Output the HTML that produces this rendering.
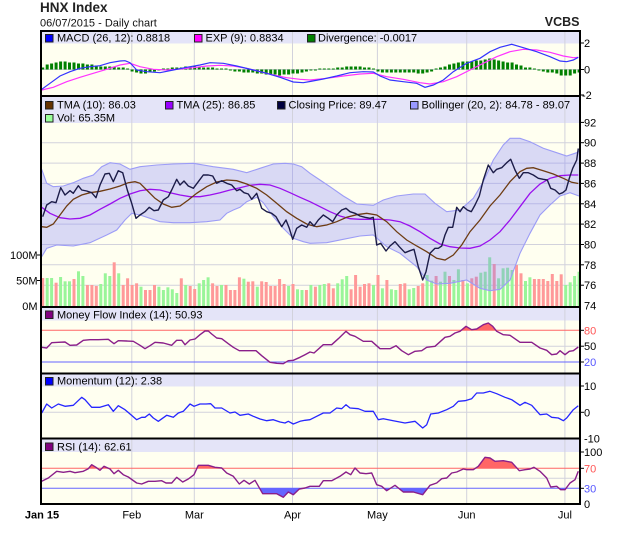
<!DOCTYPE html>
<html><head><meta charset="utf-8"><style>
html,body{margin:0;padding:0;background:#fff;}
svg{display:block;font-family:"Liberation Sans",Arial,sans-serif;}
</style></head><body>
<svg width="620" height="535" viewBox="0 0 620 535" xmlns="http://www.w3.org/2000/svg">
<defs>
<clipPath id="cMfiR"><rect x="40" y="320" width="540" height="10.3"/></clipPath>
<clipPath id="cRsiR"><rect x="40" y="452" width="540" height="16.3"/></clipPath>
<clipPath id="cRsiB"><rect x="40" y="488.3" width="540" height="16"/></clipPath>
</defs>
<rect width="620" height="535" fill="#fff"/>
<!-- header -->
<text x="40" y="11.8" font-size="13.5" font-weight="bold" fill="#222">HNX Index</text>
<text x="40" y="26.5" font-size="11" fill="#111">06/07/2015 - Daily chart</text>
<text x="579.5" y="26" font-size="12.5" font-weight="bold" fill="#222" text-anchor="end">VCBS</text>

<!-- plot backgrounds -->
<rect x="41" y="31" width="539" height="473" fill="#fffff0"/>
<g fill="#e4e4f8">
<rect x="41" y="31" width="539" height="12.5"/>
<rect x="41" y="96" width="539" height="27"/>
<rect x="41" y="307" width="539" height="13.5"/>
<rect x="41" y="373.5" width="539" height="13"/>
<rect x="41" y="438.5" width="539" height="13.5"/>
</g>
<!-- vertical grid -->
<g stroke="#d2d2dc" stroke-width="1">
<line x1="131.8" y1="31" x2="131.8" y2="504"/>
<line x1="194.3" y1="31" x2="194.3" y2="504"/>
<line x1="292.5" y1="31" x2="292.5" y2="504"/>
<line x1="377.4" y1="31" x2="377.4" y2="504"/>
<line x1="466.7" y1="31" x2="466.7" y2="504"/>
<line x1="564.9" y1="31" x2="564.9" y2="504"/>
</g>
<!-- horizontal grid -->
<g stroke="#d2d2dc" stroke-width="1">
<line x1="41" y1="69.5" x2="580" y2="69.5"/>
<line x1="41" y1="142.7" x2="580" y2="142.7"/>
<line x1="41" y1="163.1" x2="580" y2="163.1"/>
<line x1="41" y1="183.4" x2="580" y2="183.4"/>
<line x1="41" y1="203.8" x2="580" y2="203.8"/>
<line x1="41" y1="224.1" x2="580" y2="224.1"/>
<line x1="41" y1="244.5" x2="580" y2="244.5"/>
<line x1="41" y1="264.8" x2="580" y2="264.8"/>
<line x1="41" y1="285.2" x2="580" y2="285.2"/>
<line x1="41" y1="346.2" x2="580" y2="346.2"/>
<line x1="41" y1="412.3" x2="580" y2="412.3"/>
<line x1="41" y1="478.3" x2="580" y2="478.3"/>
</g>
<g stroke-width="1">
<line x1="41" y1="330.3" x2="580" y2="330.3" stroke="#ff6666"/>
<line x1="41" y1="362" x2="580" y2="362" stroke="#6666ff"/>
<line x1="41" y1="468.3" x2="580" y2="468.3" stroke="#ff6666"/>
<line x1="41" y1="488.3" x2="580" y2="488.3" stroke="#6666ff"/>
</g>

<!-- MACD histogram -->
<g fill="#008000">
<rect x="41.2" y="67.5" width="3" height="2"/><rect x="45.7" y="64.5" width="3" height="5"/><rect x="50.1" y="63.5" width="3" height="6"/><rect x="54.6" y="62.5" width="3" height="7"/><rect x="59.1" y="61.5" width="3" height="8"/><rect x="63.6" y="61.5" width="3" height="8"/><rect x="68.0" y="62.5" width="3" height="7"/><rect x="72.5" y="62.5" width="3" height="7"/><rect x="77.0" y="63.5" width="3" height="6"/><rect x="81.4" y="63.5" width="3" height="6"/><rect x="85.9" y="64.5" width="3" height="5"/><rect x="90.4" y="64.5" width="3" height="5"/><rect x="94.8" y="65.5" width="3" height="4"/><rect x="99.3" y="66.5" width="3" height="3"/><rect x="103.8" y="66.5" width="3" height="3"/><rect x="108.3" y="66.5" width="3" height="3"/><rect x="112.7" y="66.5" width="3" height="3"/><rect x="117.2" y="67.5" width="3" height="2"/><rect x="121.7" y="67.5" width="3" height="2"/><rect x="126.1" y="68.5" width="3" height="1"/>
<rect x="130.6" y="69.5" width="3" height="2"/><rect x="135.1" y="69.5" width="3" height="3"/><rect x="139.5" y="69.5" width="3" height="4"/><rect x="144.0" y="69.5" width="3" height="4"/><rect x="148.5" y="69.5" width="3" height="3"/><rect x="153.0" y="69.5" width="3" height="2"/><rect x="157.4" y="69.5" width="3" height="1"/>
<rect x="161.9" y="68.5" width="3" height="1"/><rect x="166.4" y="68.5" width="3" height="1"/><rect x="170.8" y="67.5" width="3" height="2"/><rect x="175.3" y="67.5" width="3" height="2"/><rect x="179.8" y="67.5" width="3" height="2"/><rect x="184.2" y="66.5" width="3" height="3"/><rect x="188.7" y="66.5" width="3" height="3"/><rect x="193.2" y="66.5" width="3" height="3"/><rect x="197.7" y="66.5" width="3" height="3"/><rect x="202.1" y="67.5" width="3" height="2"/><rect x="206.6" y="67.5" width="3" height="2"/><rect x="211.1" y="67.5" width="3" height="2"/><rect x="215.5" y="68.5" width="3" height="1"/><rect x="220.0" y="68.5" width="3" height="1"/><rect x="224.5" y="68.5" width="3" height="1"/>
<rect x="228.9" y="69.5" width="3" height="1"/><rect x="233.4" y="69.5" width="3" height="2"/><rect x="237.9" y="69.5" width="3" height="2"/><rect x="242.4" y="69.5" width="3" height="3"/><rect x="246.8" y="69.5" width="3" height="3"/><rect x="251.3" y="69.5" width="3" height="3"/><rect x="255.8" y="69.5" width="3" height="4"/><rect x="260.2" y="69.5" width="3" height="4"/><rect x="264.7" y="69.5" width="3" height="5"/><rect x="269.2" y="69.5" width="3" height="5"/><rect x="273.6" y="69.5" width="3" height="5"/><rect x="278.1" y="69.5" width="3" height="6"/><rect x="282.6" y="69.5" width="3" height="5"/><rect x="287.1" y="69.5" width="3" height="5"/><rect x="291.5" y="69.5" width="3" height="4"/><rect x="296.0" y="69.5" width="3" height="4"/><rect x="300.5" y="69.5" width="3" height="3"/><rect x="304.9" y="69.5" width="3" height="2"/><rect x="309.4" y="69.5" width="3" height="1"/><rect x="313.9" y="69.5" width="3" height="1"/>
<rect x="318.3" y="68.5" width="3" height="1"/><rect x="322.8" y="68.5" width="3" height="1"/><rect x="327.3" y="68.5" width="3" height="1"/><rect x="331.8" y="68.5" width="3" height="1"/><rect x="336.2" y="67.5" width="3" height="2"/><rect x="340.7" y="67.5" width="3" height="2"/><rect x="345.2" y="66.5" width="3" height="3"/><rect x="349.6" y="66.5" width="3" height="3"/><rect x="354.1" y="66.5" width="3" height="3"/><rect x="358.6" y="66.5" width="3" height="3"/><rect x="363.0" y="67.5" width="3" height="2"/><rect x="367.5" y="67.5" width="3" height="2"/><rect x="372.0" y="68.5" width="3" height="1"/>
<rect x="376.5" y="69.5" width="3" height="2"/><rect x="380.9" y="69.5" width="3" height="3"/><rect x="385.4" y="69.5" width="3" height="3"/><rect x="389.9" y="69.5" width="3" height="3"/><rect x="394.3" y="69.5" width="3" height="3"/><rect x="398.8" y="69.5" width="3" height="3"/><rect x="403.3" y="69.5" width="3" height="3"/><rect x="407.7" y="69.5" width="3" height="3"/><rect x="412.2" y="69.5" width="3" height="3"/><rect x="416.7" y="69.5" width="3" height="4"/><rect x="421.2" y="69.5" width="3" height="4"/><rect x="425.6" y="69.5" width="3" height="3"/><rect x="430.1" y="69.5" width="3" height="2"/>
<rect x="434.6" y="68.5" width="3" height="1"/><rect x="439.0" y="67.5" width="3" height="2"/><rect x="443.5" y="66.5" width="3" height="3"/><rect x="448.0" y="64.5" width="3" height="5"/><rect x="452.4" y="63.5" width="3" height="6"/><rect x="456.9" y="62.5" width="3" height="7"/><rect x="461.4" y="61.5" width="3" height="8"/><rect x="465.9" y="61.5" width="3" height="8"/><rect x="470.3" y="61.5" width="3" height="8"/><rect x="474.8" y="60.5" width="3" height="9"/><rect x="479.3" y="60.5" width="3" height="9"/><rect x="483.7" y="59.5" width="3" height="10"/><rect x="488.2" y="58.5" width="3" height="11"/><rect x="492.7" y="59.5" width="3" height="10"/><rect x="497.1" y="60.5" width="3" height="9"/><rect x="501.6" y="61.5" width="3" height="8"/><rect x="506.1" y="62.5" width="3" height="7"/><rect x="510.6" y="62.5" width="3" height="7"/><rect x="515.0" y="64.5" width="3" height="5"/><rect x="519.5" y="65.5" width="3" height="4"/><rect x="524.0" y="67.5" width="3" height="2"/><rect x="528.4" y="67.5" width="3" height="2"/><rect x="532.9" y="68.5" width="3" height="1"/>
<rect x="537.4" y="69.5" width="3" height="1"/><rect x="541.8" y="69.5" width="3" height="2"/><rect x="546.3" y="69.5" width="3" height="3"/><rect x="550.8" y="69.5" width="3" height="3"/><rect x="555.3" y="69.5" width="3" height="4"/><rect x="559.7" y="69.5" width="3" height="6"/><rect x="564.2" y="69.5" width="3" height="6"/><rect x="568.7" y="69.5" width="3" height="6"/><rect x="573.1" y="69.5" width="3" height="4"/><rect x="577.6" y="69.5" width="2" height="3"/>
</g>
<!-- MACD lines -->
<polyline fill="none" stroke="#ff33ff" stroke-width="1.2" points="41.7,90 53.3,87.3 66.7,81.7 80,77.3 93.3,73.3 106.7,69.3 120,65 130,63.3 140,66.7 153.3,69.3 166.7,70 180,69 193.3,67.7 206.7,66 220,65.3 233.3,66 246.7,68.3 260,71.7 273.3,75 286.7,77.7 300,79.3 310,80 326.7,78.3 343.3,76 360,74 373.3,73.3 386.7,76.7 403.3,79.3 420,82.7 430,84 443.3,81.7 456.7,76.7 470,70 483.3,63.3 496.7,56.7 510,51.7 523.3,49.3 536.7,50 550,52.3 563.3,56 573.3,57.7 578.3,57.3"/>
<polyline fill="none" stroke="#3333ff" stroke-width="1.2" points="41.7,89.3 50,83.3 60,76 70,71.7 80,68.3 90,66.7 100,65.7 110,62.7 120,61 125,60.7 130,62.7 136.7,70 146.7,71.7 160,72.7 173.3,70 186.7,67.3 200,65 210,62.7 223.3,63.3 236.7,66 253.3,70 266.7,73.3 280,77.3 293.3,82 303.3,82.7 310,81.5 323.3,79 336.7,76 350,72.7 363.3,71.7 373.3,72 380,76 390,80 403.3,81.7 416.7,83.3 425,87.3 433.3,85 443.3,80 453.3,71.7 466.7,63.3 480,58.3 490,51.7 500,47.3 511.7,44.3 523.3,47.7 536.7,51.7 550,56.7 560,61 566.7,61.7 573.3,60 578.3,57.3"/>

<!-- Volume bars -->
<g fill="#ff9999">
<rect x="41.2" y="278" width="3" height="28"/><rect x="54.6" y="282.7" width="3" height="23.3"/><rect x="72.5" y="279" width="3" height="27"/><rect x="85.9" y="285" width="3" height="21"/><rect x="90.4" y="285" width="3" height="21"/><rect x="94.8" y="286" width="3" height="20"/><rect x="112.7" y="262.3" width="3" height="43.7"/><rect x="121.7" y="285" width="3" height="21"/><rect x="126.1" y="278.3" width="3" height="27.7"/><rect x="130.6" y="285" width="3" height="21"/><rect x="135.1" y="283.3" width="3" height="22.7"/><rect x="144.0" y="290" width="3" height="16"/><rect x="148.5" y="290" width="3" height="16"/><rect x="153.0" y="285" width="3" height="21"/><rect x="179.8" y="278.3" width="3" height="27.7"/><rect x="188.7" y="286" width="3" height="20"/><rect x="193.2" y="289" width="3" height="17"/><rect x="211.1" y="283.3" width="3" height="22.7"/><rect x="215.5" y="286" width="3" height="20"/><rect x="224.5" y="285" width="3" height="21"/><rect x="228.9" y="290" width="3" height="16"/><rect x="233.4" y="290" width="3" height="16"/><rect x="237.9" y="277.3" width="3" height="28.7"/><rect x="246.8" y="281.7" width="3" height="24.3"/><rect x="251.3" y="281.3" width="3" height="24.7"/><rect x="260.2" y="281.3" width="3" height="24.7"/><rect x="264.7" y="282" width="3" height="24"/><rect x="269.2" y="286" width="3" height="20"/><rect x="273.6" y="286" width="3" height="20"/><rect x="278.1" y="279" width="3" height="27"/><rect x="282.6" y="284" width="3" height="22"/><rect x="291.5" y="284" width="3" height="22"/><rect x="304.9" y="290" width="3" height="16"/><rect x="313.9" y="286.7" width="3" height="19.3"/><rect x="327.3" y="283.3" width="3" height="22.7"/><rect x="331.8" y="288.3" width="3" height="17.7"/><rect x="349.6" y="289.3" width="3" height="16.7"/><rect x="354.1" y="275" width="3" height="31"/><rect x="358.6" y="286.7" width="3" height="19.3"/><rect x="363.0" y="284" width="3" height="22"/><rect x="367.5" y="283.3" width="3" height="22.7"/><rect x="376.5" y="275" width="3" height="31"/><rect x="385.4" y="280" width="3" height="26"/><rect x="398.8" y="284" width="3" height="22"/><rect x="403.3" y="283.3" width="3" height="22.7"/><rect x="416.7" y="286" width="3" height="20"/><rect x="421.2" y="283.3" width="3" height="22.7"/><rect x="434.6" y="276" width="3" height="30"/><rect x="448.0" y="276" width="3" height="30"/><rect x="461.4" y="280" width="3" height="26"/><rect x="470.3" y="278.3" width="3" height="27.7"/><rect x="474.8" y="276.7" width="3" height="29.3"/><rect x="492.7" y="264" width="3" height="42"/><rect x="515.0" y="265" width="3" height="41"/><rect x="519.5" y="273.3" width="3" height="32.7"/><rect x="532.9" y="279" width="3" height="27"/><rect x="537.4" y="279" width="3" height="27"/><rect x="541.8" y="279" width="3" height="27"/><rect x="546.3" y="281" width="3" height="25"/><rect x="550.8" y="274" width="3" height="32"/><rect x="555.3" y="281" width="3" height="25"/><rect x="559.7" y="274.3" width="3" height="31.7"/>
</g>
<g fill="#99f599">
<rect x="45.7" y="278" width="3" height="28"/><rect x="50.1" y="278" width="3" height="28"/><rect x="59.1" y="277" width="3" height="29"/><rect x="63.6" y="281.3" width="3" height="24.7"/><rect x="68.0" y="281.3" width="3" height="24.7"/><rect x="77.0" y="271.3" width="3" height="34.7"/><rect x="81.4" y="276" width="3" height="30"/><rect x="99.3" y="284" width="3" height="22"/><rect x="103.8" y="273.3" width="3" height="32.7"/><rect x="108.3" y="276" width="3" height="30"/><rect x="117.2" y="273.3" width="3" height="32.7"/><rect x="139.5" y="286.7" width="3" height="19.3"/><rect x="157.4" y="286.7" width="3" height="19.3"/><rect x="161.9" y="290" width="3" height="16"/><rect x="166.4" y="287.3" width="3" height="18.7"/><rect x="170.8" y="289.3" width="3" height="16.7"/><rect x="175.3" y="293" width="3" height="13"/><rect x="184.2" y="285" width="3" height="21"/><rect x="197.7" y="283.3" width="3" height="22.7"/><rect x="202.1" y="280" width="3" height="26"/><rect x="206.6" y="277.3" width="3" height="28.7"/><rect x="220.0" y="285" width="3" height="21"/><rect x="242.4" y="278.7" width="3" height="27.3"/><rect x="255.8" y="286.7" width="3" height="19.3"/><rect x="287.1" y="286" width="3" height="20"/><rect x="296.0" y="289.3" width="3" height="16.7"/><rect x="300.5" y="290" width="3" height="16"/><rect x="309.4" y="285" width="3" height="21"/><rect x="318.3" y="285" width="3" height="21"/><rect x="322.8" y="284" width="3" height="22"/><rect x="336.2" y="283.3" width="3" height="22.7"/><rect x="340.7" y="279.3" width="3" height="26.7"/><rect x="345.2" y="276" width="3" height="30"/><rect x="372.0" y="285" width="3" height="21"/><rect x="380.9" y="288.3" width="3" height="17.7"/><rect x="389.9" y="289.3" width="3" height="16.7"/><rect x="394.3" y="290" width="3" height="16"/><rect x="407.7" y="289.3" width="3" height="16.7"/><rect x="412.2" y="288" width="3" height="18"/><rect x="425.6" y="275" width="3" height="31"/><rect x="430.1" y="280.7" width="3" height="25.3"/><rect x="439.0" y="281.7" width="3" height="24.3"/><rect x="443.5" y="271.7" width="3" height="34.3"/><rect x="452.4" y="280" width="3" height="26"/><rect x="456.9" y="269.3" width="3" height="36.7"/><rect x="465.9" y="283.3" width="3" height="22.7"/><rect x="479.3" y="272.7" width="3" height="33.3"/><rect x="483.7" y="271.7" width="3" height="34.3"/><rect x="488.2" y="257.3" width="3" height="48.7"/><rect x="497.1" y="278.3" width="3" height="27.7"/><rect x="501.6" y="268.3" width="3" height="37.7"/><rect x="506.1" y="267.7" width="3" height="38.3"/><rect x="510.6" y="270" width="3" height="36"/><rect x="524.0" y="281" width="3" height="25"/><rect x="528.4" y="277.3" width="3" height="28.7"/><rect x="564.2" y="285" width="3" height="21"/><rect x="568.7" y="282.3" width="3" height="23.7"/><rect x="573.1" y="276" width="3" height="30"/><rect x="577.6" y="271.7" width="2.4" height="34.3"/>
</g>

<!-- Bollinger band -->
<polygon fill="rgba(128,128,255,0.30)" stroke="none" points="41.7,169.3 46.7,183.3 53.3,186.7 63.3,186 73.3,182.7 83.3,178.3 93.3,175 101.7,166.7 110,162.7 120,164 130,169.3 140,166.7 156.7,165 173.3,164 193.3,163.3 213.3,166.7 233.3,169.3 246.7,172.7 260,168.3 273.3,164 285,163.3 293.3,164 301.7,166.7 310,173.3 320,180 330,186.7 343.3,196 356.7,204 373.3,205.3 383.3,200 396.7,196 413.3,194 425,194 435,203.3 446.7,211.7 460,210 473.3,198.3 483.3,181.7 493.3,160 503.3,145 510,138.3 520,138.3 530,141.7 543.3,148.3 556.7,152.7 566.7,156 576.7,152.7 579,151 579,196 570,192.7 560,196 550,205 540,215 530,233.3 520,253.3 510,280 500,289.3 490,290.7 480,288.3 466.7,280 450,283.3 436.7,284 426.7,280 416.7,266.7 400,253.3 386.7,246.7 373.3,235 360,236 343.3,239.3 326.7,242.7 310,243.3 303.3,241.7 293.3,238.3 283.3,228.3 273.3,216.7 263.3,202.7 256.7,197.3 246.7,201.7 240,207.3 233.3,210 226.7,213.3 220,220 206.7,221.7 190,222.7 173.3,222.7 160,221.7 150,218.3 140,215 131.7,213.3 125,220 116.7,230 106.7,235 90,242.7 73.3,246 56.7,245 46.7,248.3 41.7,256.7"/>
<g fill="none" stroke="#9c9cf6" stroke-width="1.1">
<polyline points="41.7,169.3 46.7,183.3 53.3,186.7 63.3,186 73.3,182.7 83.3,178.3 93.3,175 101.7,166.7 110,162.7 120,164 130,169.3 140,166.7 156.7,165 173.3,164 193.3,163.3 213.3,166.7 233.3,169.3 246.7,172.7 260,168.3 273.3,164 285,163.3 293.3,164 301.7,166.7 310,173.3 320,180 330,186.7 343.3,196 356.7,204 373.3,205.3 383.3,200 396.7,196 413.3,194 425,194 435,203.3 446.7,211.7 460,210 473.3,198.3 483.3,181.7 493.3,160 503.3,145 510,138.3 520,138.3 530,141.7 543.3,148.3 556.7,152.7 566.7,156 576.7,152.7 579,151"/>
<polyline points="41.7,256.7 46.7,248.3 56.7,245 73.3,246 90,242.7 106.7,235 116.7,230 125,220 131.7,213.3 140,215 150,218.3 160,221.7 173.3,222.7 190,222.7 206.7,221.7 220,220 226.7,213.3 233.3,210 240,207.3 246.7,201.7 256.7,197.3 263.3,202.7 273.3,216.7 283.3,228.3 293.3,238.3 303.3,241.7 310,243.3 326.7,242.7 343.3,239.3 360,236 373.3,235 386.7,246.7 400,253.3 416.7,266.7 426.7,280 436.7,284 450,283.3 466.7,280 480,288.3 490,290.7 500,289.3 510,280 520,253.3 530,233.3 540,215 550,205 560,196 570,192.7 579,196"/>
</g>
<!-- TMA lines -->
<polyline fill="none" stroke="#9a10ee" stroke-width="1.3" points="41.7,207.3 50,213.3 60,217.7 70,219 80,218.3 90,215 100,209.3 110,204 120,198.3 130,194 140,190.7 150,189.3 160,190 170,192.7 180,195 190,196.7 200,196.7 210,195 220,192.7 230,190 240,187.7 250,185.3 260,184.3 270,185 280,188.3 290,192.7 300,197.3 310,201.7 320,206.7 330,211.7 340,216 350,218.7 360,219.3 370,219.3 380,219.3 390,220 400,221.7 410,226 420,231.7 430,238.3 440,244 450,246.7 460,248 470,248.3 480,246 490,240 500,231.7 510,220 520,206.7 530,193.3 540,184 550,178.3 560,175.7 570,175 578.3,175"/>
<polyline fill="none" stroke="#6e3c12" stroke-width="1.3" points="41.7,226.7 46.7,227.3 53.3,224 60,215 66.7,206 73.3,199.3 81.7,195 90,192.7 100,191.3 110,189 120,186 128.3,182.7 135,181.7 140,183.3 146.7,190 155,198.3 163.3,204 171.7,207.3 180,206 188.3,200 196.7,193.3 206.7,186.7 216.7,182 226.7,180 236.7,180.7 246.7,184 256.7,188.3 266.7,195 276.7,203.3 286.7,211.7 296.7,218.3 306.7,224 310,225 316.7,226.7 326.7,225 336.7,221.7 346.7,217.3 356.7,214.7 366.7,213.3 376.7,215 386.7,221.7 396.7,231.7 406.7,240 416.7,246 426.7,251.7 436.7,258.3 445,260 453.3,255 461.7,245 470,231.7 480,220 490,206 500,195 510,181.7 520,171.7 526.7,168.3 533.3,167.7 543.3,170.7 553.3,174 563.3,178.3 571.7,182.3 578.3,183.5"/>
<!-- Close -->
<polyline fill="none" stroke="#1c1c48" stroke-width="1.4" stroke-linejoin="round" points="42.7,216.7 46.7,205 51.7,201.7 56,202.7 60.7,187.7 65,195 70,190.7 73.3,193.3 78.3,185.7 81.7,190 86.7,191 91.7,192.7 96,197.7 100,185 105,174 109.3,173.3 113.3,181.7 118.3,170.7 122.7,172.7 127.3,190 131.7,203.3 136,218.3 140,215 145,211.7 149.3,207.3 154,210.7 158.3,210 163.3,200 168.3,196.7 171.7,190 176.7,179.3 180,185 184,181 188.3,186 193.3,188.3 198.3,181.7 203.3,175 208.3,175 212.7,176 216.7,183.3 221.7,180.7 226.7,183.3 231.7,185 236.7,190.7 240,189.3 244,192.7 248.3,194 251.7,199.3 256.7,193.3 261.7,208.3 266.7,211.7 271.7,213.3 276,216.7 281.7,226.7 286,220 289.3,228.3 292.7,239.3 296.7,228.3 301.7,225 306.7,227.3 310,221.7 314,226 318.3,220 323.3,215 328.3,218.3 332.7,221.7 336.7,215 341.7,210 346,208.3 350,211.7 355,213.3 360,216 365,217.3 370,218.3 373.3,217.3 376.7,245 380.7,243.3 386,251 390,246 395,241.7 399.3,246.7 405,252.7 410,250.7 414,249.3 418.3,266.7 422.7,280 426,271.7 430,253.3 435,248.3 438.3,248.3 441.7,246 445,235 448.3,227.3 452.7,227.3 456.7,207.3 460,211.7 463.3,206.7 467.3,210 471.3,211.7 475,205 479.3,196 483.3,180 488.3,165 493.3,172.7 496.7,169.3 501.7,167.7 506.7,162.7 510.7,159.3 515,170 519.3,178.3 523.3,172.7 528.3,172.7 533.3,175 538.3,178.3 543.3,179.3 547.3,180 550.7,188.3 555,190 559.3,194 562.7,192.7 566,190 569.3,178.3 572.7,168.3 576.7,160 578.3,148.5"/>

<!-- MFI -->
<path clip-path="url(#cMfiR)" fill="#ff6666" d="M41.7,330.3 L41.7,347.3 46.7,348 51.7,342.7 58.3,342.3 65,342 70,345.3 76.7,345 83.3,340.3 90,339.7 98.3,339.7 108.3,339.3 114,343.7 118.3,340.7 126.7,341 133.3,341.3 140,345.3 145,348.7 150,345.7 155,342.3 163.3,343 171.7,345.3 176.7,340.3 181.7,340.3 185,344.7 190,340 195,339 200,334.7 205,331 208.3,331 211.7,334 216.7,338 221.7,338.7 228.3,343.7 233.3,347.3 239.3,350.7 246.7,350.7 256,350.7 261.7,355.7 270,362.3 276.7,363.3 283.3,363.7 288.3,360.7 293.3,360.3 300,357.3 305,354.7 310,352 314,353 323.3,344.7 331.7,344.7 338.3,338.7 346,331.3 350,334.7 355,336.3 363.3,341.3 371.7,341.3 380,348.7 390,348.7 396,345.7 401.7,350.7 408.3,354.7 415,351.3 421.7,350.7 426.7,347.3 435,346.3 445,337.3 450,336.3 455,333 460,331.3 466,326.3 471.7,329.7 476.7,329 483.3,324.7 488.3,323 492.7,326.3 496.7,331.3 503.3,334.7 510,335.3 520,342.3 531.7,342.3 540,348 546.7,350.3 551.7,354.7 556.7,354 560,350.7 565,354.7 569.3,351.3 573.3,350.7 578.3,347 L578.3,330.3 Z"/>
<polyline fill="none" stroke="#8a1f8a" stroke-width="1.4" stroke-linejoin="round" points="41.7,347.3 46.7,348 51.7,342.7 58.3,342.3 65,342 70,345.3 76.7,345 83.3,340.3 90,339.7 98.3,339.7 108.3,339.3 114,343.7 118.3,340.7 126.7,341 133.3,341.3 140,345.3 145,348.7 150,345.7 155,342.3 163.3,343 171.7,345.3 176.7,340.3 181.7,340.3 185,344.7 190,340 195,339 200,334.7 205,331 208.3,331 211.7,334 216.7,338 221.7,338.7 228.3,343.7 233.3,347.3 239.3,350.7 246.7,350.7 256,350.7 261.7,355.7 270,362.3 276.7,363.3 283.3,363.7 288.3,360.7 293.3,360.3 300,357.3 305,354.7 310,352 314,353 323.3,344.7 331.7,344.7 338.3,338.7 346,331.3 350,334.7 355,336.3 363.3,341.3 371.7,341.3 380,348.7 390,348.7 396,345.7 401.7,350.7 408.3,354.7 415,351.3 421.7,350.7 426.7,347.3 435,346.3 445,337.3 450,336.3 455,333 460,331.3 466,326.3 471.7,329.7 476.7,329 483.3,324.7 488.3,323 492.7,326.3 496.7,331.3 503.3,334.7 510,335.3 520,342.3 531.7,342.3 540,348 546.7,350.3 551.7,354.7 556.7,354 560,350.7 565,354.7 569.3,351.3 573.3,350.7 578.3,347"/>

<!-- Momentum -->
<polyline fill="none" stroke="#2626ff" stroke-width="1.3" stroke-linejoin="round" points="41.7,413 46.7,404 51.7,408 58.3,404 65,406.3 73.3,405.3 81.7,397.3 85,399.7 91.7,407.3 100,407.3 108.3,404.7 113.3,411.3 118.3,405.7 125,409.7 136.7,419.7 141.7,417.3 145,417.3 149.3,414 153.3,418 158.3,421.3 166.7,415.3 173.3,417.3 178.3,413 183.3,411.3 190,404 194,406.3 200,404 206,404 210.7,403.7 215,408 221.7,408 230,413 235,412 240,415.3 248.3,414 253.3,416.3 260,419 266.7,420.7 273.3,419.7 280,422 285,423 288.3,421.3 293.3,424 300,421.3 305,420.3 310,419.7 316.7,416.3 323.3,413 330,413 336.7,408 341.7,408.7 346,404.7 350,408 358.3,408.7 365,411.3 373.3,411.3 378.3,419.7 383.3,418.7 393.3,420.7 405,423 415,421.3 422.7,428 426.7,424.7 430.7,414 438.3,413 446.7,409.7 453.3,406.3 458.3,401.3 465,400.7 471.7,398.7 476.7,393 483.3,393 490,391.3 496.7,393.7 505,397.3 511.7,399.7 520,405.3 525,402.3 531.7,405.3 540,414.7 546.7,414 551.7,417.3 558.3,418 563.3,420.7 566.7,418 573.3,409.7 578.3,405.7"/>

<!-- RSI -->
<path id="rsiArea" clip-path="url(#cRsiR)" fill="#ff6666" d="M41.7,468.3 L41.7,481.3 48.3,478 56.7,471.3 63.3,472.3 70,471.3 75,472.7 83.3,471.3 88.3,468.7 91.7,464.7 96,467.3 100,470.3 104,466.3 110,469 114,473.7 118.3,470.3 123.3,474.7 128.3,477 136.7,483 141.7,484 148.3,481.3 155,481.3 161.7,480.7 166,483 171.7,483 176.7,477.3 182.7,482 188.3,479 194,474.7 198.3,465.3 203.3,465.3 208.3,465.3 215,467.3 221.7,468 226.7,473 233.3,476.3 239.3,484 244,480.3 249.3,484 255,480.3 262.7,493.7 270,493.7 276.7,493.7 283.3,497.3 288.3,492 293.3,494.7 299.3,489 305,488 310,486.3 319.3,486.3 323.3,480.7 331.7,480.7 340,476.3 346,472 350.7,474.7 355,468 360,473 366,473.7 371.7,473 376.7,484.7 381.7,486.3 386.7,490.7 395,485.3 403.3,492 413.3,492 422.7,494.7 430,485.3 436.7,483 441.7,478.7 446.7,478 451.7,473 456.7,472 463.3,469 466.7,469.7 473.3,469.7 478.3,466.3 485,457.3 490,458 495,461.3 503.3,460.7 511.7,462.3 519.3,470.7 525,469.7 530,469 534,467.3 540,471.3 546.7,478 550.7,487 556.7,486.3 560.7,489.7 565,489.7 570,483 575,479.7 578.3,471.3 L578.3,468.3 Z"/>
<path clip-path="url(#cRsiB)" fill="#6666ff" d="M41.7,488.3 L41.7,481.3 48.3,478 56.7,471.3 63.3,472.3 70,471.3 75,472.7 83.3,471.3 88.3,468.7 91.7,464.7 96,467.3 100,470.3 104,466.3 110,469 114,473.7 118.3,470.3 123.3,474.7 128.3,477 136.7,483 141.7,484 148.3,481.3 155,481.3 161.7,480.7 166,483 171.7,483 176.7,477.3 182.7,482 188.3,479 194,474.7 198.3,465.3 203.3,465.3 208.3,465.3 215,467.3 221.7,468 226.7,473 233.3,476.3 239.3,484 244,480.3 249.3,484 255,480.3 262.7,493.7 270,493.7 276.7,493.7 283.3,497.3 288.3,492 293.3,494.7 299.3,489 305,488 310,486.3 319.3,486.3 323.3,480.7 331.7,480.7 340,476.3 346,472 350.7,474.7 355,468 360,473 366,473.7 371.7,473 376.7,484.7 381.7,486.3 386.7,490.7 395,485.3 403.3,492 413.3,492 422.7,494.7 430,485.3 436.7,483 441.7,478.7 446.7,478 451.7,473 456.7,472 463.3,469 466.7,469.7 473.3,469.7 478.3,466.3 485,457.3 490,458 495,461.3 503.3,460.7 511.7,462.3 519.3,470.7 525,469.7 530,469 534,467.3 540,471.3 546.7,478 550.7,487 556.7,486.3 560.7,489.7 565,489.7 570,483 575,479.7 578.3,471.3 L578.3,488.3 Z"/>
<polyline fill="none" stroke="#8a1f8a" stroke-width="1.4" stroke-linejoin="round" points="41.7,481.3 48.3,478 56.7,471.3 63.3,472.3 70,471.3 75,472.7 83.3,471.3 88.3,468.7 91.7,464.7 96,467.3 100,470.3 104,466.3 110,469 114,473.7 118.3,470.3 123.3,474.7 128.3,477 136.7,483 141.7,484 148.3,481.3 155,481.3 161.7,480.7 166,483 171.7,483 176.7,477.3 182.7,482 188.3,479 194,474.7 198.3,465.3 203.3,465.3 208.3,465.3 215,467.3 221.7,468 226.7,473 233.3,476.3 239.3,484 244,480.3 249.3,484 255,480.3 262.7,493.7 270,493.7 276.7,493.7 283.3,497.3 288.3,492 293.3,494.7 299.3,489 305,488 310,486.3 319.3,486.3 323.3,480.7 331.7,480.7 340,476.3 346,472 350.7,474.7 355,468 360,473 366,473.7 371.7,473 376.7,484.7 381.7,486.3 386.7,490.7 395,485.3 403.3,492 413.3,492 422.7,494.7 430,485.3 436.7,483 441.7,478.7 446.7,478 451.7,473 456.7,472 463.3,469 466.7,469.7 473.3,469.7 478.3,466.3 485,457.3 490,458 495,461.3 503.3,460.7 511.7,462.3 519.3,470.7 525,469.7 530,469 534,467.3 540,471.3 546.7,478 550.7,487 556.7,486.3 560.7,489.7 565,489.7 570,483 575,479.7 578.3,471.3"/>

<!-- separators and frame -->
<g stroke="#000" stroke-width="2">
<line x1="40" y1="96" x2="581" y2="96"/>
<line x1="40" y1="307" x2="581" y2="307"/>
<line x1="40" y1="373.5" x2="581" y2="373.5"/>
<line x1="40" y1="438.5" x2="581" y2="438.5"/>
<rect x="41" y="31" width="539" height="473" fill="none"/>
</g>

<!-- legends -->
<g stroke="#222" stroke-width="1">
<rect x="45.5" y="34.5" width="7.5" height="7.5" fill="#0000ff"/>
<rect x="194.5" y="34.5" width="7.5" height="7.5" fill="#ff00ff"/>
<rect x="307.5" y="34.5" width="7.5" height="7.5" fill="#008000"/>
<rect x="45.5" y="101.5" width="7.5" height="7.5" fill="#663300"/>
<rect x="165.5" y="101.5" width="7.5" height="7.5" fill="#9900ff"/>
<rect x="277.5" y="101.5" width="7.5" height="7.5" fill="#000040"/>
<rect x="410.5" y="101.5" width="7.5" height="7.5" fill="#9999ff"/>
<rect x="45.5" y="114.5" width="7.5" height="7.5" fill="#99ff99"/>
<rect x="45.5" y="311" width="7.5" height="7.5" fill="#800080"/>
<rect x="45.5" y="377.5" width="7.5" height="7.5" fill="#0000ff"/>
<rect x="45.5" y="443" width="7.5" height="7.5" fill="#800080"/>
</g>
<g font-size="11" fill="#000">
<text x="57" y="41.7">MACD (26, 12): 0.8818</text>
<text x="205.5" y="41.7">EXP (9): 0.8834</text>
<text x="318" y="41.7">Divergence: -0.0017</text>
<text x="57" y="108.5">TMA (10): 86.03</text>
<text x="176.5" y="108.5">TMA (25): 86.85</text>
<text x="288.5" y="108.5">Closing Price: 89.47</text>
<text x="421.5" y="108.5">Bollinger (20, 2): 84.78 - 89.07</text>
<text x="57" y="121.7">Vol: 65.35M</text>
<text x="57" y="318.6">Money Flow Index (14): 50.93</text>
<text x="57" y="384.7">Momentum (12): 2.38</text>
<text x="57" y="450.6">RSI (14): 62.61</text>
</g>

<!-- right axis ticks -->
<g stroke="#000" stroke-width="1">
<line x1="580" y1="43" x2="584" y2="43"/><line x1="580" y1="69.5" x2="584" y2="69.5"/><line x1="580" y1="95" x2="584" y2="95"/>
<line x1="580" y1="122.4" x2="584" y2="122.4"/><line x1="580" y1="142.7" x2="584" y2="142.7"/><line x1="580" y1="163.1" x2="584" y2="163.1"/><line x1="580" y1="183.4" x2="584" y2="183.4"/><line x1="580" y1="203.8" x2="584" y2="203.8"/><line x1="580" y1="224.1" x2="584" y2="224.1"/><line x1="580" y1="244.5" x2="584" y2="244.5"/><line x1="580" y1="264.8" x2="584" y2="264.8"/><line x1="580" y1="285.2" x2="584" y2="285.2"/>
<line x1="580" y1="330.3" x2="584" y2="330.3"/><line x1="580" y1="346.2" x2="584" y2="346.2"/><line x1="580" y1="362" x2="584" y2="362"/>
<line x1="580" y1="386" x2="584" y2="386"/><line x1="580" y1="412.3" x2="584" y2="412.3"/>
<line x1="580" y1="452" x2="584" y2="452"/><line x1="580" y1="468.3" x2="584" y2="468.3"/><line x1="580" y1="488.3" x2="584" y2="488.3"/>
<line x1="37" y1="255" x2="41" y2="255"/><line x1="37" y1="280.5" x2="41" y2="280.5"/>
</g>
<g font-size="11" fill="#000">
<text x="584" y="47">2</text>
<text x="584" y="73.5">0</text>
<text x="582" y="99">-2</text>
<text x="584" y="126.4">92</text>
<text x="584" y="146.7">90</text>
<text x="584" y="167.1">88</text>
<text x="584" y="187.4">86</text>
<text x="584" y="207.8">84</text>
<text x="584" y="228.1">82</text>
<text x="584" y="248.5">80</text>
<text x="584" y="268.8">78</text>
<text x="584" y="289.2">76</text>
<text x="584" y="309.5">74</text>
<text x="584" y="334.3" fill="#ff5555">80</text>
<text x="584" y="350.2">50</text>
<text x="584" y="366" fill="#5555ff">20</text>
<text x="584" y="390">10</text>
<text x="584" y="416.3">0</text>
<text x="584" y="442.5">-10</text>
<text x="584" y="456">100</text>
<text x="584" y="472.3" fill="#ff5555">70</text>
<text x="584" y="492.3" fill="#5555ff">30</text>
<text x="584" y="508">0</text>
<text x="37.5" y="259" text-anchor="end">100M</text>
<text x="37.5" y="284.5" text-anchor="end">50M</text>
<text x="37.5" y="310" text-anchor="end">0M</text>
</g>
<!-- date labels -->
<g font-size="11" fill="#000" text-anchor="middle">
<text x="42" y="518.3" font-weight="bold">Jan 15</text>
<text x="131.8" y="518.3">Feb</text>
<text x="194.3" y="518.3">Mar</text>
<text x="292.5" y="518.3">Apr</text>
<text x="377.4" y="518.3">May</text>
<text x="466.7" y="518.3">Jun</text>
<text x="564.9" y="518.3">Jul</text>
</g>
</svg>
</body></html>
